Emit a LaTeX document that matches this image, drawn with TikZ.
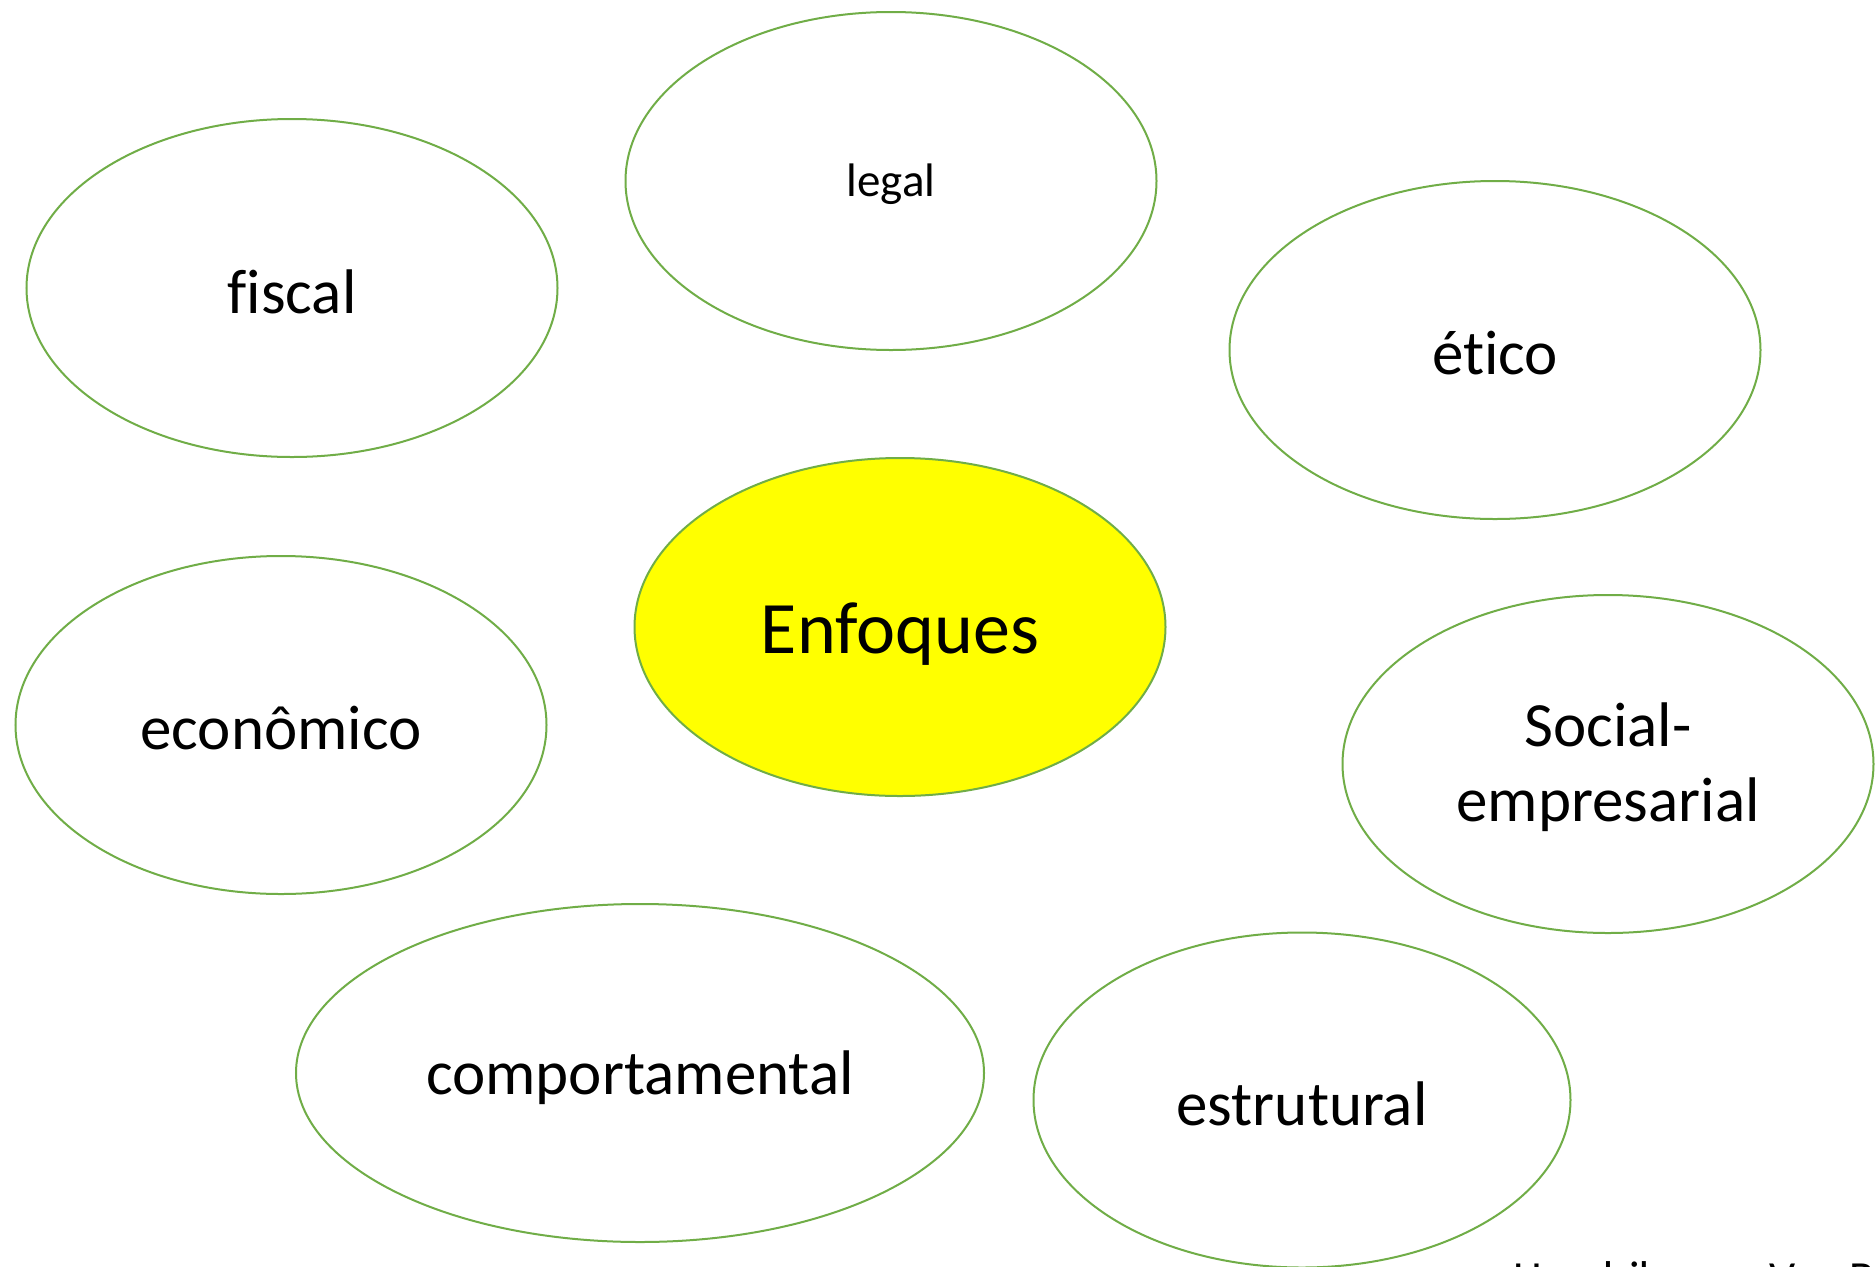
\documentclass[tikz,border=0pt]{standalone}
\usepackage{fontspec}
\setmainfont{Carlito}[Ligatures={NoCommon,NoContextual}]
\usetikzlibrary{shapes.geometric}
\definecolor{leafgreen}{RGB}{112,173,71}
\definecolor{hilite}{RGB}{255,255,0}
\newcommand{\lowtxt}[2][1.4pt]{\raisebox{-#1}[\height][\depth]{#2}}

\begin{document}
\begin{tikzpicture}[x=0.4pt,y=0.4pt,yscale=-1,xscale=1,
    approach/.style={ellipse, draw=leafgreen, line width=0.8pt, fill=white, inner sep=0pt,
        minimum width=212.4pt, minimum height=135.2pt, align=center,
        font=\fontsize{25.2}{30}\selectfont},
    core/.style={approach, fill=hilite, font=\fontsize{29.6}{35}\selectfont}]
    %set diagram left start at 0, and has height of 1267
    \useasboundingbox (0,0) rectangle (1875,1267);
    \clip (0,0) rectangle (1875,1267);

    %Shape: Ellipse [legal]
    \node [approach, font=\fontsize{18.8}{22}\selectfont] (legal) at (891,181) {\lowtxt{legal}};
    %Shape: Ellipse [fiscal]
    \node [approach] (fiscal) at (292,288) {\lowtxt{fiscal}};
    %Shape: Ellipse [etico]
    \node [approach] (etico) at (1495,350) {\lowtxt{ético}};
    %Shape: Ellipse [enfoques]
    \node [core] (enfoques) at (900,627) {\lowtxt[3pt]{Enfoques}};
    %Shape: Ellipse [economico]
    \node [approach] (economico) at (281,725) {\lowtxt{econômico}};
    %Shape: Ellipse [social]
    \node [approach] (social) at (1608,764) {\lowtxt{Social-}\\\lowtxt{empresarial}};
    %Shape: Ellipse [comportamental]
    \node [approach, minimum width=275.2pt] (comportamental) at (640,1073) {\lowtxt[2pt]{comportamental}};
    %Shape: Ellipse [estrutural]
    \node [approach, minimum width=214.8pt, minimum height=134pt] (estrutural) at (1302,1100) {\lowtxt{estrutural}};

    % Text Node
    \node [anchor=base west, inner sep=0pt, font=\fontsize{18.4}{22}\selectfont] (fonte) at (1513,1293) {Hendriksen e Van Breda};
\end{tikzpicture}
\end{document}
